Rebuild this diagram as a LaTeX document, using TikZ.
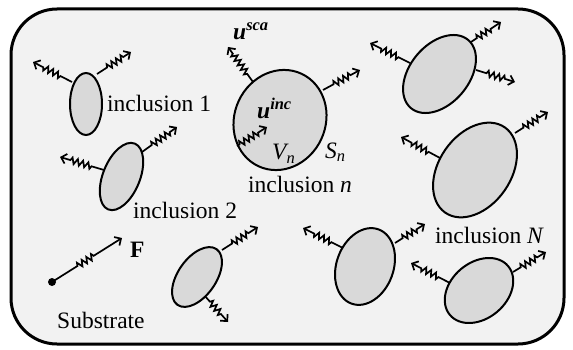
\documentclass[tikz,border=0pt]{standalone}
\usepackage{fontspec}
\setmainfont{Liberation Serif}
\usetikzlibrary{decorations.pathmorphing,arrows.meta,shapes.geometric}
\definecolor{bggray}{RGB}{242,242,242}
\definecolor{elgray}{RGB}{217,217,217}
\begin{document}
\begin{tikzpicture}[x=1pt,y=-1pt,
  frame/.style={draw=black,line width=3pt,fill=bggray,rounded corners=46pt},
  incl/.style={ellipse,draw=black,line width=2pt,fill=elgray,inner sep=0pt,outer sep=0pt},
  wave/.style 2 args={line width=1.7pt,line join=miter,
    -{Straight Barb[length=5pt,width=10pt,line width=1.7pt]},
    decorate,decoration={zigzag,amplitude=3pt,segment length=5.5pt,pre length=#1,post length=#2}},
  lbl/.style={font=\fontsize{23.5}{27}\selectfont,inner sep=0pt,anchor=base west}]
\useasboundingbox (0,0) rectangle (573,350);
\path[frame] (11,9) rectangle (564,344);

% arrow end points
\coordinate (a1s) at (72,82);   \coordinate (a1e) at (33,62);
\coordinate (b1s) at (97,74);   \coordinate (b1e) at (131,52);
\coordinate (a2s) at (104,170); \coordinate (a2e) at (60,157);
\coordinate (b2s) at (142,152); \coordinate (b2e) at (177,127);
\coordinate (ans) at (253,82);  \coordinate (ane) at (228,47);
\coordinate (bns) at (323,90);  \coordinate (bne) at (360,70);
\coordinate (ins) at (237,146); \coordinate (ine) at (267,127);
\coordinate (a4s) at (410,63);  \coordinate (a4e) at (370,43);
\coordinate (b4s) at (471,42);  \coordinate (b4e) at (501,22);
\coordinate (c4s) at (476,70);  \coordinate (c4e) at (515,82);
\coordinate (a5s) at (440,158); \coordinate (a5e) at (401,137);
\coordinate (b5s) at (515,133); \coordinate (b5e) at (548,112);
\coordinate (a6s) at (222,250); \coordinate (a6e) at (258,227);
\coordinate (b6s) at (204,295); \coordinate (b6e) at (228,322);
\coordinate (a7s) at (343,248); \coordinate (a7e) at (303,228);
\coordinate (b7s) at (395,243); \coordinate (b7e) at (425,224);
\coordinate (a8s) at (450,283); \coordinate (a8e) at (411,263);
\coordinate (b8s) at (513,272); \coordinate (b8e) at (546,252);
\coordinate (fs) at (52,282);   \coordinate (fe) at (122,238);

% outward waves
\draw[wave={13pt}{10pt}] (a1s) -- (a1e);
\draw[wave={12pt}{9pt}] (b1s) -- (b1e);
\draw[wave={13pt}{10pt}] (a2s) -- (a2e);
\draw[wave={12pt}{9pt}] (b2s) -- (b2e);
\draw[wave={10pt}{8pt}] (ans) -- (ane);
\draw[wave={12pt}{9pt}] (bns) -- (bne);
\draw[wave={13pt}{10pt}] (a4s) -- (a4e);
\draw[wave={7pt}{10pt}] (b4s) -- (b4e);
\draw[wave={11pt}{10pt}] (c4s) -- (c4e);
\draw[wave={13pt}{10pt}] (a5s) -- (a5e);
\draw[wave={10pt}{9pt}] (b5s) -- (b5e);
\draw[wave={12pt}{9pt}] (a6s) -- (a6e);
\draw[wave={9pt}{9pt}] (b6s) -- (b6e);
\draw[wave={13pt}{10pt}] (a7s) -- (a7e);
\draw[wave={9pt}{9pt}] (b7s) -- (b7e);
\draw[wave={13pt}{10pt}] (a8s) -- (a8e);
\draw[wave={9pt}{9pt}] (b8s) -- (b8e);
\draw[wave={30pt}{32pt}] (fs) -- (fe);
\fill (fs) circle[radius=4pt];

% inclusions
\node[incl,minimum width=32pt,minimum height=62pt] (e1) at (86,104) {};
\node[incl,minimum width=71pt,minimum height=37pt,rotate=68] (e2) at (121.5,176.5) {};
\node[incl,minimum width=102pt,minimum height=91pt,rotate=65] (en) at (280,120) {};
\node[incl,minimum width=89pt,minimum height=59pt,rotate=50] (e4) at (439.5,74) {};
\node[incl,minimum width=104pt,minimum height=72pt,rotate=55] (e5) at (475,170) {};
\node[incl,minimum width=68pt,minimum height=38pt,rotate=55] (e6) at (197,277) {};
\node[incl,minimum width=79pt,minimum height=57pt,rotate=70] (e7) at (365,266.5) {};
\node[incl,minimum width=76pt,minimum height=56pt,rotate=40] (e8) at (479,290.5) {};

% incident wave inside inclusion n
\draw[wave={3pt}{8pt}] (ins) -- (ine);

% labels
\node[lbl] (t1) at (107,112) {inclusion 1};
\node[lbl] (t2) at (133,218) {inclusion 2};
\node[lbl] (tn) at (248,192) {inclusion \textit{n}};
\node[lbl] (tN) at (435,243) {inclusion \textit{N}};
\node[lbl] (ts) at (57,328) {Substrate};
\node[lbl] (tf) at (130,257) {\textbf{F}};
\node[lbl] (usca) at (233,40) {\bfseries\itshape u\textsuperscript{sca}};
\node[lbl] (uinc) at (257,119) {\bfseries\itshape u\textsuperscript{inc}};
\node[lbl] (vn) at (272,160) {\itshape V\textsubscript{n}};
\node[lbl] (sn) at (325,158) {\itshape S\textsubscript{n}};
\end{tikzpicture}
\end{document}
